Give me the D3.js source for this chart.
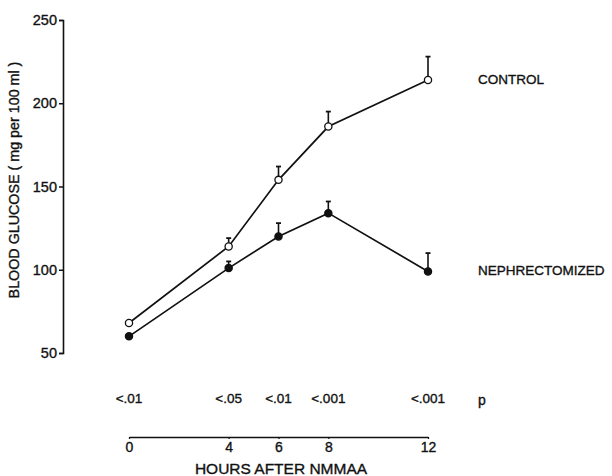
<!DOCTYPE html>
<html>
<head>
<meta charset="utf-8">
<script src="https://cdn.jsdelivr.net/npm/d3@7"></script>
<style>
  body { margin: 0; background: #fff; }
  text { font-family: "Liberation Sans", Arial, sans-serif; fill: #111; stroke: #111; stroke-width: 0.35px; }
</style>
</head>
<body>
<div class="chart"></div>
<script>
// chart size
const WIDTH = 612;
const HEIGHT = 476;

// data
const hours = [0, 4, 6, 8, 12];
const control = [68, 114, 154, 186, 214];
const controlErr = [0, 5, 8, 9, 14];
const nephrectomized = [60, 101, 120, 134, 99];
const nephrectomizedErr = [0, 4, 8, 7, 11];
const pValues = ["<.01", "<.05", "<.01", "<.001", "<.001"];
const yTicks = [50, 100, 150, 200, 250];

const svg = d3
  .select(".chart")
  .append("svg")
  .attr("width", WIDTH)
  .attr("height", HEIGHT);

const x = d3.scaleLinear().domain([0, 12]).range([129, 428]);
const y = d3.scaleLinear().domain([50, 250]).range([353, 20]);

// y axis
const yAxis = svg.append("g")
  .attr("transform", "translate(63,0)")
  .call(d3.axisLeft(y).tickValues(yTicks).tickSize(4).tickPadding(2));
yAxis.select(".domain").attr("stroke-width", 1.6).attr("stroke", "#111");
yAxis.selectAll(".tick line").attr("stroke-width", 1.5).attr("stroke", "#111");
yAxis.selectAll("text").attr("font-size", 14.5).attr("fill", "#111").style("font-family", "Liberation Sans, Arial, sans-serif");

svg.append("text")
  .attr("transform", "translate(15,180) rotate(-90)")
  .attr("text-anchor", "middle")
  .attr("dominant-baseline", "middle")
  .attr("font-size", 14.3)
  .text("BLOOD GLUCOSE ( mg per 100 ml )");

// x axis
const xAxis = svg.append("g")
  .attr("transform", "translate(0,437)")
  .call(d3.axisBottom(x).tickValues(hours).tickSize(2).tickSizeOuter(0).tickPadding(3));
xAxis.select(".domain").attr("stroke-width", 1.6).attr("stroke", "#111");
xAxis.selectAll(".tick line").attr("stroke-width", 1.2).attr("stroke", "#111");
xAxis.selectAll("text").attr("font-size", 14).attr("fill", "#111").style("font-family", "Liberation Sans, Arial, sans-serif");

svg.append("text")
  .attr("x", 281)
  .attr("y", 474)
  .attr("text-anchor", "middle")
  .attr("font-size", 15.5)
  .text("HOURS AFTER NMMAA");

// p values row
svg.selectAll(".pval")
  .data(pValues)
  .join("text")
  .attr("class", "pval")
  .attr("x", (d, i) => x(hours[i]))
  .attr("y", 399)
  .attr("text-anchor", "middle")
  .attr("dominant-baseline", "middle")
  .attr("font-size", 13.5)
  .text(d => d);

svg.append("text")
  .attr("x", 482)
  .attr("y", 401)
  .attr("text-anchor", "middle")
  .attr("dominant-baseline", "middle")
  .attr("font-size", 14)
  .text("p");

// draw one series with upward error bars
function drawSeries(values, errs, filled, label) {
  const pts = hours.map((h, i) => ({ h: h, v: values[i], e: errs[i] }));
  const line = d3.line().x(d => x(d.h)).y(d => y(d.v));

  svg.append("path")
    .datum(pts)
    .attr("d", line)
    .attr("fill", "none")
    .attr("stroke", "#111")
    .attr("stroke-width", 1.7);

  const eb = svg.append("g").selectAll("g")
    .data(pts.filter(d => d.e > 0))
    .join("g");
  eb.append("line")
    .attr("x1", d => x(d.h)).attr("x2", d => x(d.h))
    .attr("y1", d => y(d.v)).attr("y2", d => y(d.v + d.e))
    .attr("stroke", "#111").attr("stroke-width", 1.6);
  eb.append("line")
    .attr("x1", d => x(d.h) - 2.5).attr("x2", d => x(d.h) + 2.5)
    .attr("y1", d => y(d.v + d.e)).attr("y2", d => y(d.v + d.e))
    .attr("stroke", "#111").attr("stroke-width", 1.8);

  svg.append("g").selectAll("circle")
    .data(pts)
    .join("circle")
    .attr("cx", d => x(d.h))
    .attr("cy", d => y(d.v))
    .attr("r", 3.6)
    .attr("fill", filled ? "#111" : "#fff")
    .attr("stroke", "#111")
    .attr("stroke-width", 1.3);

  svg.append("text")
    .attr("x", 478)
    .attr("y", y(values[values.length - 1]))
    .attr("dominant-baseline", "middle")
    .attr("font-size", 13.5)
    .text(label);
}

drawSeries(control, controlErr, false, "CONTROL");
drawSeries(nephrectomized, nephrectomizedErr, true, "NEPHRECTOMIZED");
</script>
</body>
</html>
